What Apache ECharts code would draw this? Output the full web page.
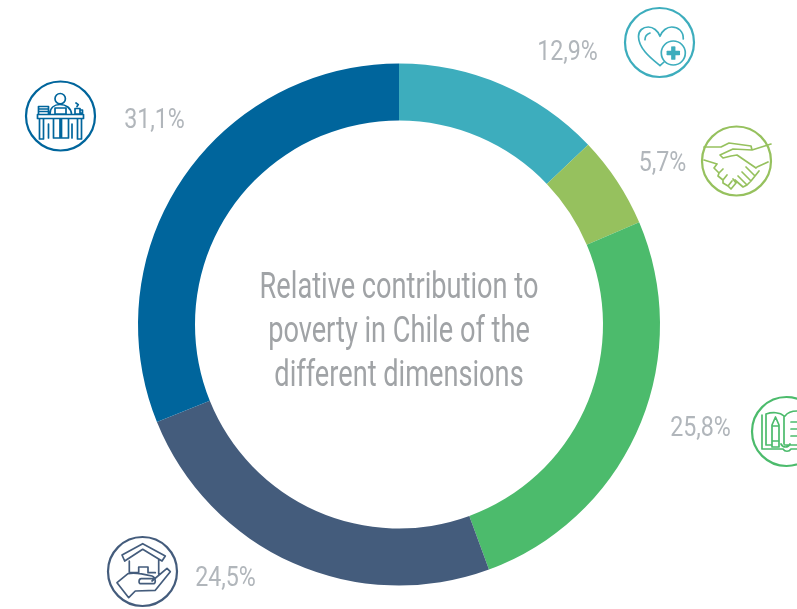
<!DOCTYPE html>
<html><head><meta charset="utf-8">
<style>html,body{margin:0;padding:0;background:#fff}#c{width:797px;height:609px}</style>
<script src="https://cdn.jsdelivr.net/npm/echarts@6/dist/echarts.min.js"></script>
</head><body><div id="c"></div>
<script>
const dimensions = ['Health','Networks and social cohesion','Education','Housing and environment','Work and social security'];
const contributions = [12.9, 5.7, 25.8, 24.5, 31.1];
const colors = ['#3DADBD','#96C15E','#4CBB6C','#445C7C','#00659C'];
const titleLines = ['Relative contribution to','poverty in Chile of the','different dimensions'];
const FONT = 'Roboto,"Noto Sans",sans-serif';
const labelSpots = [[567.5,53.5],[662.5,164.5],[700.5,429.5],[225.5,579.5],[154.5,121.5]];
const titleRows = [288.5,332.5,376.5];

const iconPaths = {
  iconWork: 'M37.5 114.5H83.5V118.5H37.5ZM39.5 118.5V139H43.5V118.5ZM77.5 118.5V139H81.5V118.5ZM55 98.7a5.2 5.2 0 1 0 10.4 0a5.2 5.2 0 1 0 -10.4 0M50 114C50 108 54 104.5 60 104.5C66 104.5 71 108 71.5 114M55 108H66V114H55ZM53.5 118.5V138H60V118.5ZM61.5 118.5V138H68.5V118.5ZM48.5 124V138M72 124V138M38.5 106.5H48.5V114M38.5 106.5V114M38.5 109H48.5M38.5 111.5H48.5M75 108.5H80V114H75ZM80 110h2.5v3H80M76 103l2.3 1.6L77 106.5',
  iconHeart: 'M660 65.7C652 59 638.5 49 638.5 36.5C638.5 30.5 643 27 648.3 27C653 27 658 30.5 660 36.3C662 30.5 667 27 671.7 27C678 27 683.5 31 683.3 39M660 65.7L664 62M645 39.7C645 36.5 647 34 650 33M661.3 53a12 12 0 1 0 24 0a12 12 0 1 0 -24 0M673.3 47V59M672 47V59M674.6 47V59M667.3 53H679.3M667.3 51.7H679.3M667.3 54.3H679.3',
  iconHands: 'M704 147L721 147L729 143L751 146L752 150L733 149L720 155L723 158L731 156L737 155L756 168M771 144L752 150M768 162L757 167M704 160L717 164M717 164L714 168L719 173L723 169M719 173L718 176L723 180L727 175M723 180L723 183L728 186L732 181M728 186L731 189L736 183L733 179M759 171L755 176L746 167M755 176L751 181L742 172M751 181L747 185L738 176M747 185L743 187L735 180',
  iconBook: 'M762 415V449H783C785 452 789 452 791 449H797M766 414V445H772M766 414C772 412 780 412 784 416V444M785 416C788 412 792 411 797 411M785 445H797M791 422H797M791 429H797M791 436H797M772 425L775.5 417L779 425V447H772ZM772 426H779M772 441H779M781 444C783 448 788 448 790 444',
  iconHome: 'M122 555L142.7 543.7L165.3 556L162 561L142.7 549.3L124.7 561ZM129.3 561V572.7H138.7V567H148V572.7H155.3M158.7 559.3V574M128 573.7L117 582.7L128.7 597.7L135.3 591L155.3 590.3L170.3 571.7L167 568.3L152 581M128 573.7C134 572 144 574 152 576C156 577 156 583.7 153.7 583.7H140.3C138.5 583.7 138.5 578.7 141.3 578.7H153'
};
Object.keys(iconPaths).forEach(k => echarts.graphic.registerShape(k, echarts.graphic.extendPath(iconPaths[k], {})));

function icon(cx, cy, color, shapeType){
  return [
    {type:'circle', shape:{cx, cy, r:34.5}, style:{stroke:color, lineWidth:2.2, fill:'#fff'}, z:5},
    {type:shapeType, style:{stroke:color, lineWidth:1.7, fill:null, lineJoin:'round', lineCap:'round'}, z:6}
  ];
}
function narrowText(text, x, y, size, sx, color){
  return {type:'text', x, y, scaleX:sx, z:7,
    style:{text, fontFamily:FONT, fontSize:size, fill:color, align:'center', verticalAlign:'middle'}};
}

const chart = echarts.init(document.getElementById('c'), null, {renderer:'canvas'});
chart.setOption({
  animation:false,
  backgroundColor:'#fff',
  color: colors,
  series:[{
    type:'pie',
    center:[399,324.5],
    radius:[204,261],
    startAngle:90,
    clockwise:true,
    silent:true,
    data: dimensions.map((name,i)=>({name, value:contributions[i]})),
    label:{show:false},
    labelLine:{show:false}
  }],
  graphic:{elements:[].concat(
    icon(60.5,116,colors[4],'iconWork'),
    icon(659.5,42.5,colors[0],'iconHeart'),
    icon(736.5,161,colors[1],'iconHands'),
    icon(786.5,431.5,colors[2],'iconBook'),
    icon(142.5,571.5,colors[3],'iconHome'),
    titleLines.map((t,i)=>narrowText(t,399,titleRows[i],36,0.755,'#A0A3A6')),
    contributions.map((v,i)=>narrowText(String(v).replace('.',',')+'%',labelSpots[i][0],labelSpots[i][1],27,0.86,'#B1B6BB'))
  )}
});
</script></body></html>
